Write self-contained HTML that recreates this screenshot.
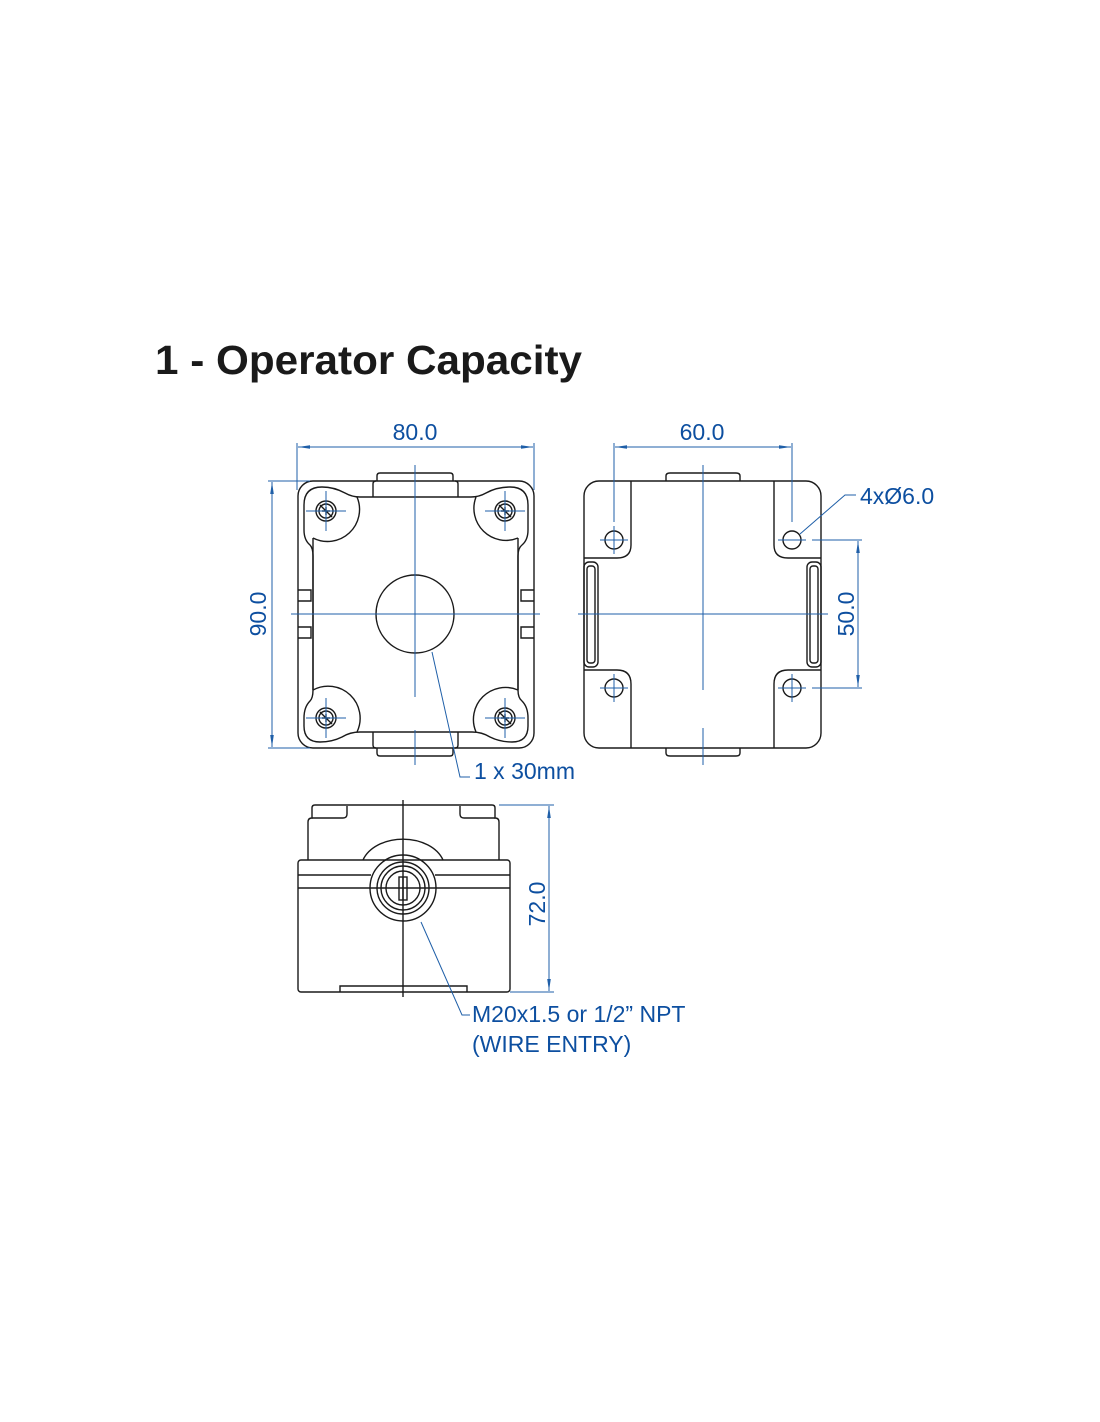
<!DOCTYPE html>
<html><head><meta charset="utf-8"><style>
html,body{margin:0;padding:0;background:#fff;}
svg{display:block;}
.k{fill:none;stroke:#1a1a1a;stroke-width:1.4;}
.b{fill:none;stroke:#1f5fa8;stroke-width:1;}
.t{fill:#0d4fa0;font-family:"Liberation Sans",sans-serif;font-size:23px;}
</style></head><body>
<svg width="1100" height="1422" viewBox="0 0 1100 1422" xmlns="http://www.w3.org/2000/svg">
<defs>
<marker id="a" viewBox="0 0 10 10" refX="10" refY="5" markerWidth="12" markerHeight="12" orient="auto-start-reverse"><path d="M0,3.5 L10,5 L0,6.5 z" fill="#1f5fa8"/></marker>
</defs>
<text x="155" y="374" font-family="Liberation Sans,sans-serif" font-weight="bold" font-size="41" fill="#1a1a1a" textLength="427" lengthAdjust="spacingAndGlyphs">1 - Operator Capacity</text>

<!-- FRONT VIEW -->
<rect class="k" x="298" y="481" width="236" height="267" rx="15"/>
<path class="k" d="M304 530 V505 Q304 487 322 487 Q334 487 345 493 Q352 497 360 497 H471 Q479 497 486 493 Q497 487 510 487 Q528 487 528 505 V530 Q528 540 522 545 Q518 548 518 556 V690 Q518 698 522 701 Q528 707 528 718 V726 Q528 742 512 742 Q500 742 490 737 Q482 732 472 732 H360 Q350 732 342 737 Q332 742 320 742 Q304 742 304 726 V718 Q304 707 310 701 Q313 698 313 690 V556 Q313 548 310 545 Q304 540 304 530 Z"/>
<path class="k" d="M357 497 A32 32 0 0 1 313 538 M476 497 A32 32 0 0 0 518 538 M313 690 A32 32 0 0 1 357 732 M518 690 A32 32 0 0 0 476 732"/>
<path class="k" d="M313 538 V690 M518 538 V690"/>
<path class="k" d="M377 481 V476 Q377 473 380 473 H450 Q453 473 453 476 V481 M373 497 V484 Q373 481 376 481 M458 497 V484 Q458 481 455 481"/>
<path class="k" d="M373 732 V745 Q373 748 376 748 M458 732 V745 Q458 748 455 748 M377 748 V753 Q377 756 380 756 H450 Q453 756 453 753 V748"/>
<path class="k" d="M298 590 H311 V601 H298 M298 627 H311 V638 H298 M534 590 H521 V601 H534 M534 627 H521 V638 H534"/>
<g>
<circle class="k" cx="326" cy="511" r="10"/><circle class="k" cx="326" cy="511" r="7"/><path class="k" d="M320 505 L332 517 M322 511 h8 M326 507 v8" stroke-width="1"/>
<circle class="k" cx="505" cy="511" r="10"/><circle class="k" cx="505" cy="511" r="7"/><path class="k" d="M499 505 L511 517 M501 511 h8 M505 507 v8" stroke-width="1"/>
<circle class="k" cx="326" cy="718" r="10"/><circle class="k" cx="326" cy="718" r="7"/><path class="k" d="M320 712 L332 724 M322 718 h8 M326 714 v8" stroke-width="1"/>
<circle class="k" cx="505" cy="718" r="10"/><circle class="k" cx="505" cy="718" r="7"/><path class="k" d="M499 712 L511 724 M501 718 h8 M505 714 v8" stroke-width="1"/>
</g>
<path class="b" d="M306 511 H346 M326 491 V531 M485 511 H525 M505 491 V531 M306 718 H346 M326 698 V738 M485 718 H525 M505 698 V738"/>
<circle class="k" cx="415" cy="614" r="39"/>
<path class="b" d="M415 465 V697 M415 730 V765 M291 614 H540"/>
<path class="b" d="M297 443 V490 M534 443 V490"/>
<line class="b" x1="298" y1="447" x2="533" y2="447" marker-start="url(#a)" marker-end="url(#a)"/>
<text class="t" x="415" y="440" text-anchor="middle">80.0</text>
<path class="b" d="M268 481 H310 M268 748 H310"/>
<line class="b" x1="272" y1="482" x2="272" y2="747" marker-start="url(#a)" marker-end="url(#a)"/>
<text class="t" transform="translate(266,614) rotate(-90)" text-anchor="middle">90.0</text>
<path class="b" d="M432 652 L460 777 H470"/>
<text class="t" x="474" y="779">1 x 30mm</text>

<!-- SIDE VIEW -->
<rect class="k" x="584" y="481" width="237" height="267" rx="15"/>
<path class="k" d="M631 481 V545 Q631 558 617 558 H584 M774 481 V545 Q774 558 788 558 H821 M584 670 H617 Q631 670 631 684 V748 M821 670 H788 Q774 670 774 684 V748"/>
<rect class="k" x="584" y="562" width="14" height="105" rx="5"/>
<rect class="k" x="587" y="566" width="8" height="97" rx="3"/>
<rect class="k" x="807" y="562" width="14" height="105" rx="5"/>
<rect class="k" x="810" y="566" width="8" height="97" rx="3"/>
<path class="k" d="M666 481 V476 Q666 473 670 473 H736 Q740 473 740 476 V481 M666 748 V753 Q666 756 670 756 H736 Q740 756 740 753 V748"/>
<circle class="k" cx="614" cy="540" r="9"/><circle class="k" cx="792" cy="540" r="9"/>
<circle class="k" cx="614" cy="688" r="9"/><circle class="k" cx="792" cy="688" r="9"/>
<path class="b" d="M600 540 H628 M614 526 V554 M778 540 H806 M600 688 H628 M614 674 V702 M778 688 H806 M792 674 V702"/>
<path class="b" d="M703 465 V690 M703 728 V765 M578 614 H828"/>
<path class="b" d="M614 443 V522 M792 443 V522"/>
<line class="b" x1="615" y1="447" x2="791" y2="447" marker-start="url(#a)" marker-end="url(#a)"/>
<text class="t" x="702" y="440" text-anchor="middle">60.0</text>
<path class="b" d="M812 540 H862 M812 688 H862"/>
<line class="b" x1="858" y1="541" x2="858" y2="687" marker-start="url(#a)" marker-end="url(#a)"/>
<text class="t" transform="translate(854,614) rotate(-90)" text-anchor="middle">50.0</text>
<path class="b" d="M800 534 L845 495 H856"/>
<text class="t" x="860" y="504">4xØ6.0</text>

<!-- BOTTOM VIEW -->
<path class="k" d="M308 860 V822 Q308 818 312 818 V808 Q312 805 315 805 H492 Q495 805 495 808 V818 Q499 818 499 822 V860"/>
<path class="k" d="M312 818 H343 Q347 818 347 814 V806 M495 818 H464 Q460 818 460 814 V806"/>
<rect class="k" x="298" y="860" width="212" height="132" rx="3"/>
<path class="k" d="M298 875 H371 M435 875 H510 M298 888 H510"/>
<path class="k" d="M363 860 A42 30 0 0 1 443 860"/>
<path class="k" d="M340 992 V986 H467 V992"/>
<circle class="k" cx="403" cy="888" r="33"/>
<circle class="k" cx="403" cy="888" r="26"/>
<circle class="k" cx="403" cy="888" r="22"/>
<circle class="k" cx="403" cy="888" r="17"/>
<rect class="k" x="399" y="877" width="8" height="23"/>
<path class="k" d="M403 877 V900" stroke-width="0.8"/>
<path class="k" d="M403 800 V997" stroke-width="1"/>
<path class="b" d="M499 805 H554 M510 992 H554"/>
<line class="b" x1="549" y1="806" x2="549" y2="991" marker-start="url(#a)" marker-end="url(#a)"/>
<text class="t" transform="translate(545,904) rotate(-90)" text-anchor="middle">72.0</text>
<path class="b" d="M421 922 L462 1015 H470"/>
<text class="t" x="472" y="1022">M20x1.5 or 1/2” NPT</text>
<text class="t" x="472" y="1052">(WIRE ENTRY)</text>
</svg>
</body></html>
